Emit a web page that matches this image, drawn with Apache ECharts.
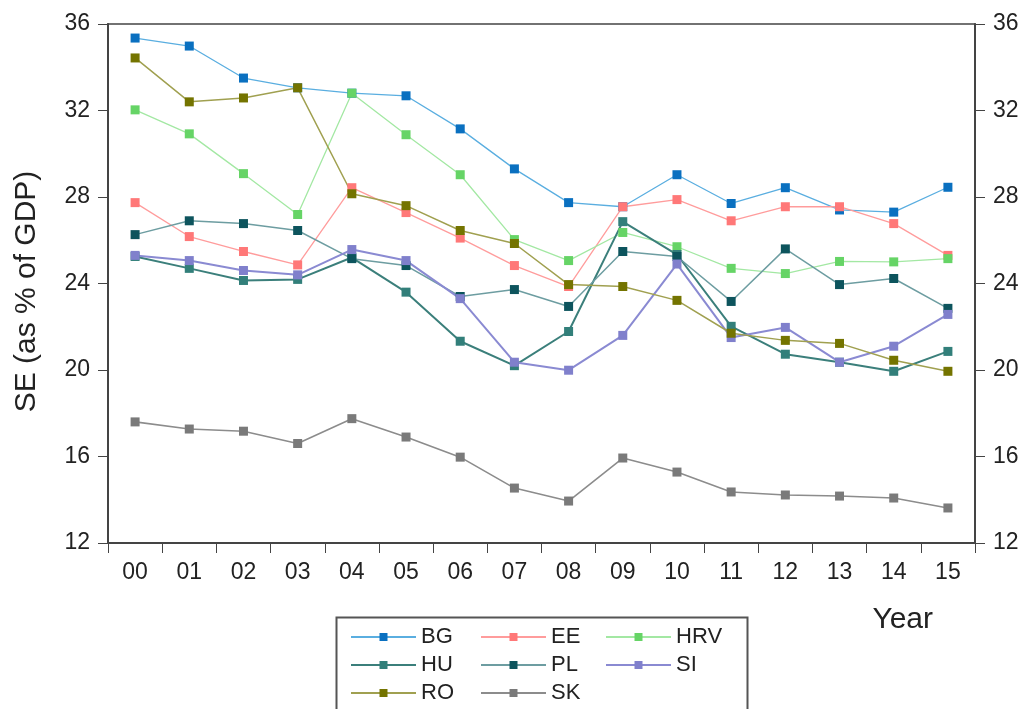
<!DOCTYPE html>
<html><head><meta charset="utf-8">
<script src="https://cdn.jsdelivr.net/npm/echarts@6/dist/echarts.min.js"></script>
<style>html,body{margin:0;padding:0;background:#fff}#c{width:1024px;height:709px}</style>
</head><body><div id="c"></div>
<script>
const years = ['00','01','02','03','04','05','06','07','08','09','10','11','12','13','14','15'];
const BG  = [35.35,34.98,33.5,33.05,32.8,32.68,31.15,29.3,27.74,27.55,29.03,27.7,28.43,27.4,27.3,28.45];
const EE  = [27.74,26.17,25.48,24.86,28.43,27.28,26.1,24.83,23.86,27.55,27.88,26.9,27.55,27.55,26.77,25.3];
const HRV = [32.03,30.92,29.08,27.19,32.8,30.88,29.03,26.03,25.06,26.36,25.7,24.7,24.46,25.02,25.0,25.15];
const HU  = [25.25,24.7,24.14,24.19,25.2,23.6,21.33,20.2,21.78,26.86,25.34,22.02,20.73,20.36,19.94,20.86];
const PL  = [26.26,26.9,26.77,26.45,25.15,24.83,23.4,23.72,22.94,25.48,25.25,23.17,25.6,23.95,24.23,22.85];
const SI  = [25.3,25.06,24.6,24.4,25.57,25.06,23.3,20.36,19.99,21.6,24.9,21.5,21.97,20.36,21.1,22.57];
const RO  = [34.43,32.4,32.58,33.05,28.15,27.6,26.45,25.85,23.95,23.86,23.22,21.7,21.37,21.23,20.45,19.94];
const SK  = [17.6,17.27,17.17,16.6,17.75,16.9,15.97,14.54,13.94,15.93,15.28,14.36,14.22,14.17,14.08,13.62];

const FONT = '"Liberation Sans", Arial, sans-serif';
function s(name, data, marker, line, w) {
  return {name, type:'line', data, symbol:'rect', symbolSize:9,
    itemStyle:{color:marker}, lineStyle:{color:line, width:w},
    emphasis:{disabled:true}, animation:false, z: 2};
}
const chart = echarts.init(document.getElementById('c'));
const legBase = {orient:'vertical', top:626, padding:0, itemWidth:65, itemHeight:10, itemGap:6,
  textStyle:{fontFamily:FONT, fontSize:22, color:'#222', lineHeight:22}, selectedMode:false};
const tickLabel = {fontFamily:FONT, fontSize:23, color:'#222', margin:18};
chart.setOption({
  animation:false,
  backgroundColor:'#fff',
  grid:{left:108, right:49, top:24, bottom:166, show:true, borderColor:'#444', borderWidth:1.5},
  xAxis:{type:'category', data:years, boundaryGap:true,
    name:'Year', nameLocation:'end', nameGap:0,
    nameTextStyle:{fontFamily:FONT, fontSize:30, color:'#222', align:'right', verticalAlign:'top', padding:[62,42,0,0]},
    axisLine:{lineStyle:{color:'#444', width:2}},
    axisTick:{show:true, alignWithLabel:false, length:10, lineStyle:{color:'#444'}},
    axisLabel:tickLabel},
  yAxis:[
    {type:'value', min:12, max:36, interval:4, position:'left',
      name:'SE (as % of GDP)', nameLocation:'middle', nameGap:66,
      nameTextStyle:{fontFamily:FONT, fontSize:30, color:'#222', padding:[0,16,0,0]},
      splitLine:{show:false},
      axisLine:{show:true, lineStyle:{color:'#444', width:2}},
      axisTick:{show:true, length:10, lineStyle:{color:'#444'}},
      axisLabel:tickLabel},
    {type:'value', min:12, max:36, interval:4, position:'right',
      splitLine:{show:false},
      axisLine:{show:true, lineStyle:{color:'#444', width:2}},
      axisTick:{show:true, length:10, lineStyle:{color:'#444'}},
      axisLabel:tickLabel}
  ],
  legend:[
    Object.assign({}, legBase, {left:350, data:['BG','HU','RO']}),
    Object.assign({}, legBase, {left:480, data:['EE','PL','SK']}),
    Object.assign({}, legBase, {left:605, data:['HRV','SI']})
  ],
  graphic:[{type:'rect', left:334, top:615, shape:{width:411, height:110},
    style:{fill:'none', stroke:'#555', lineWidth:2}, silent:true}],
  series:[
    s('BG', BG, '#0a70c0', '#5aaee0', 1.3),
    s('EE', EE, '#ff7878', '#ff9c9c', 1.3),
    s('HRV', HRV, '#66d466', '#a3e8a3', 1.3),
    s('HU', HU, '#327f7a', '#3b7f7b', 2),
    s('PL', PL, '#0d545d', '#6d9da1', 1.5),
    s('SI', SI, '#8080cc', '#8a8ad2', 2),
    s('RO', RO, '#747400', '#a0a050', 1.5),
    s('SK', SK, '#7a7a7a', '#8c8c8c', 1.6)
  ]
});
</script></body></html>
